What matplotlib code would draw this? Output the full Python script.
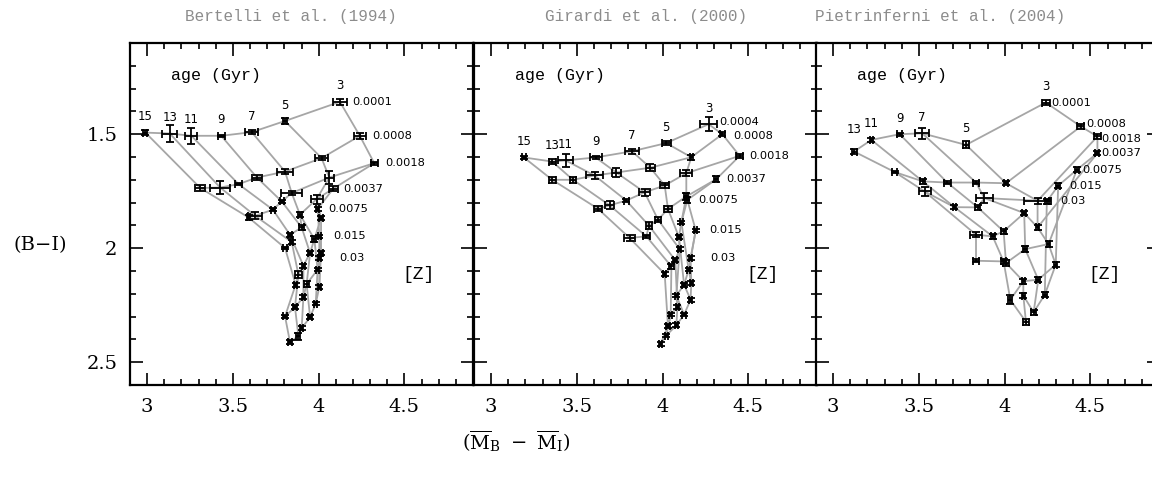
import numpy as np
import matplotlib
matplotlib.use("Agg")
import matplotlib.pyplot as plt
from matplotlib.ticker import MultipleLocator, FuncFormatter

# ---------------- data ----------------
titles = ["Bertelli et al. (1994)", "Girardi et al. (2000)", "Pietrinferni et al. (2004)"]

ages_p1 = [3, 5, 7, 9, 11, 13, 15]
Z_p1 = ["0.0001", "0.0008", "0.0018", "0.0037", "0.0075", "0.015", "0.03"]
p1_x = [[4.124, 3.804, 3.610, 3.432, 3.258, 3.132, 2.990],
        [4.240, 4.017, 3.804, 3.640, 3.533, 3.426, 3.310],
        [4.324, 4.062, 3.843, 3.785, 3.733, 3.630, 3.591],
        [4.085, 3.988, 3.891, 3.901, 3.833, 3.843, 3.804],
        [3.994, 4.014, 3.975, 3.950, 3.911, 3.882, 3.866],
        [4.004, 4.014, 3.994, 3.930, 3.911, 3.862, 3.804],
        [4.004, 4.004, 3.983, 3.950, 3.901, 3.882, 3.833]]
p1_y = [[1.358, 1.442, 1.491, 1.507, 1.507, 1.497, 1.493],
        [1.507, 1.605, 1.664, 1.690, 1.719, 1.734, 1.736],
        [1.627, 1.690, 1.758, 1.795, 1.831, 1.858, 1.865],
        [1.739, 1.785, 1.853, 1.909, 1.941, 1.973, 1.999],
        [1.828, 1.868, 1.960, 2.021, 2.077, 2.116, 2.160],
        [1.948, 2.021, 2.094, 2.157, 2.215, 2.259, 2.299],
        [2.043, 2.170, 2.243, 2.303, 2.351, 2.386, 2.412]]
p1_xerr = [[0.043, 0.012, 0.039, 0.020, 0.035, 0.043, 0.012],
           [0.035, 0.040, 0.045, 0.030, 0.020, 0.060, 0.030],
           [0.020, 0.025, 0.060, 0.012, 0.010, 0.040, 0.010],
           [0.025, 0.035, 0.010, 0.015, 0.012, 0.010, 0.012],
           [0.010, 0.010, 0.012, 0.010, 0.010, 0.018, 0.010],
           [0.010, 0.010, 0.010, 0.015, 0.010, 0.010, 0.010],
           [0.010, 0.010, 0.010, 0.010, 0.010, 0.012, 0.012]]
p1_yerr = [[0.012, 0.012, 0.010, 0.005, 0.036, 0.036, 0.010],
           [0.012, 0.008, 0.010, 0.012, 0.005, 0.030, 0.015],
           [0.006, 0.030, 0.008, 0.008, 0.006, 0.015, 0.010],
           [0.012, 0.020, 0.010, 0.010, 0.008, 0.010, 0.005],
           [0.008, 0.008, 0.012, 0.008, 0.008, 0.015, 0.008],
           [0.008, 0.008, 0.008, 0.015, 0.008, 0.008, 0.008],
           [0.008, 0.008, 0.008, 0.008, 0.008, 0.015, 0.008]]

ages_p2 = [3, 5, 7, 9, 11, 13, 15]
Z_p2 = ["0.0004", "0.0008", "0.0018", "0.0037", "0.0075", "0.015", "0.03"]
p2_x = [[4.268, 4.021, 3.821, 3.609, 3.434, 3.356, 3.191],
        [4.348, 4.167, 3.928, 3.730, 3.603, 3.477, 3.356],
        [4.449, 4.138, 4.012, 3.895, 3.788, 3.691, 3.623],
        [4.313, 4.138, 4.031, 3.973, 3.920, 3.905, 3.807],
        [4.144, 4.109, 4.095, 4.099, 4.074, 4.051, 4.012],
        [4.193, 4.152, 4.125, 4.080, 4.086, 4.047, 4.031],
        [4.163, 4.167, 4.163, 4.125, 4.080, 4.021, 3.988]]
p2_y = [[1.456, 1.539, 1.575, 1.602, 1.615, 1.620, 1.602],
        [1.500, 1.601, 1.647, 1.668, 1.681, 1.700, 1.700],
        [1.595, 1.671, 1.725, 1.755, 1.791, 1.812, 1.827],
        [1.697, 1.773, 1.828, 1.875, 1.901, 1.948, 1.955],
        [1.788, 1.887, 1.951, 2.004, 2.053, 2.080, 2.113],
        [1.922, 2.094, 2.160, 2.208, 2.259, 2.291, 2.342],
        [2.043, 2.153, 2.226, 2.291, 2.338, 2.383, 2.420]]
p2_xerr = [[0.048, 0.025, 0.040, 0.035, 0.045, 0.020, 0.010],
           [0.015, 0.010, 0.025, 0.025, 0.050, 0.020, 0.020],
           [0.020, 0.035, 0.025, 0.030, 0.015, 0.025, 0.025],
           [0.012, 0.012, 0.025, 0.020, 0.020, 0.020, 0.030],
           [0.012, 0.010, 0.010, 0.010, 0.012, 0.015, 0.010],
           [0.010, 0.010, 0.010, 0.010, 0.010, 0.010, 0.010],
           [0.010, 0.010, 0.010, 0.010, 0.010, 0.010, 0.010]]
p2_yerr = [[0.030, 0.008, 0.012, 0.008, 0.030, 0.010, 0.008],
           [0.010, 0.010, 0.015, 0.020, 0.015, 0.012, 0.012],
           [0.008, 0.012, 0.010, 0.015, 0.008, 0.018, 0.012],
           [0.012, 0.015, 0.012, 0.012, 0.015, 0.008, 0.012],
           [0.012, 0.008, 0.008, 0.008, 0.008, 0.012, 0.008],
           [0.008, 0.008, 0.008, 0.008, 0.008, 0.008, 0.008],
           [0.008, 0.008, 0.008, 0.008, 0.008, 0.008, 0.008]]

ages_p3 = [3, 5, 7, 9, 11, 13]
Z_p3 = ["0.0001", "0.0008", "0.0018", "0.0037", "0.0075", "0.015", "0.03"]
nan = np.nan
p3_x = [[4.240, 3.775, 3.519, 3.388, 3.223, 3.122],
        [4.444, 4.008, 3.833, 3.665, 3.523, 3.359],
        [4.541, 4.192, 3.882, 3.843, 3.707, 3.533],
        [4.541, 4.192, 4.114, 3.994, 3.930, 3.833],
        [4.421, 4.256, 4.120, 4.008, 3.994, 3.833],
        [4.312, 4.298, 4.196, 4.109, 4.033, nan],
        [4.246, 4.234, 4.169, 4.109, 4.124, nan]]
p3_y = [[1.361, 1.547, 1.496, 1.500, 1.525, 1.576],
        [1.466, 1.715, 1.712, 1.712, 1.707, 1.666],
        [1.510, 1.792, 1.780, 1.821, 1.820, 1.751],
        [1.583, 1.909, 1.846, 1.926, 1.948, 1.941],
        [1.656, 1.982, 2.004, 2.065, 2.058, 2.055],
        [1.726, 2.072, 2.138, 2.145, 2.226, nan],
        [1.795, 2.204, 2.281, 2.208, 2.323, nan]]
p3_xerr = [[0.025, 0.015, 0.040, 0.015, 0.010, 0.015],
           [0.020, 0.012, 0.015, 0.020, 0.015, 0.015],
           [0.020, 0.080, 0.050, 0.015, 0.010, 0.035],
           [0.012, 0.010, 0.012, 0.015, 0.012, 0.035],
           [0.012, 0.010, 0.012, 0.015, 0.015, 0.015],
           [0.010, 0.008, 0.012, 0.010, 0.012, nan],
           [0.012, 0.012, 0.015, 0.010, 0.018, nan]]
p3_yerr = [[0.010, 0.015, 0.025, 0.006, 0.008, 0.012],
           [0.010, 0.010, 0.008, 0.008, 0.012, 0.006],
           [0.010, 0.012, 0.020, 0.010, 0.008, 0.020],
           [0.010, 0.010, 0.010, 0.012, 0.010, 0.010],
           [0.010, 0.012, 0.012, 0.012, 0.012, 0.006],
           [0.010, 0.012, 0.010, 0.012, 0.020, nan],
           [0.010, 0.010, 0.012, 0.012, 0.012, nan]]

panels = [
    (ages_p1, Z_p1, p1_x, p1_y, p1_xerr, p1_yerr),
    (ages_p2, Z_p2, p2_x, p2_y, p2_xerr, p2_yerr),
    (ages_p3, Z_p3, p3_x, p3_y, p3_xerr, p3_yerr),
]

# label offsets (points) of the Z labels relative to the 3-Gyr points
z_label_dx = [[9, 9, 8, 7, 8, 10, 14],
              [8, 8, 7, 7, 8, 10, 14],
              [4, 4, 3, 3, 4, 8, 10]]
z_label_dy = [[0, 0, 0, 0, 0, 0, 0],
              [1.5, -1.5, 0, 0, 0, 0, 0],
              [0, 1.5, -1.5, 0, 0, 0, 0]]

# ---------------- figure ----------------
W, H = 1152, 483
fig = plt.figure(figsize=(W / 100, H / 100), dpi=100)

serif = "DejaVu Serif"
mono = "Liberation Mono"
sans = "DejaVu Sans"
plt.rcParams["mathtext.fontset"] = "dejavuserif"

ax_w = 343 / W
ax_h = (385 - 43) / H
ax_b = (H - 385) / H
lefts = [130 / W, 474 / W, 816 / W]
line_col = "#a6a6a6"

for k, (ages, zs, X, Y, XE, YE) in enumerate(panels):
    ax = fig.add_axes([lefts[k], ax_b, ax_w, ax_h])
    X = np.array(X, float); Y = np.array(Y, float)
    XE = np.array(XE, float); YE = np.array(YE, float)
    # iso-metallicity lines
    for i in range(X.shape[0]):
        ax.plot(X[i], Y[i], color=line_col, lw=1.3, zorder=1)
    # iso-age lines
    for j in range(X.shape[1]):
        ax.plot(X[:, j], Y[:, j], color=line_col, lw=1.3, zorder=1)
    ax.errorbar(X.ravel(), Y.ravel(), xerr=XE.ravel(), yerr=YE.ravel(),
                fmt="none", ecolor="black", elinewidth=1.3, capsize=2.6,
                capthick=1.3, zorder=3)
    # age labels above first row
    for j, a in enumerate(ages):
        dy = 11.5
        if k == 2 and a == 13:
            dy = 16
        ax.annotate(str(a), (X[0, j], Y[0, j]), xytext=(0, dy),
                    textcoords="offset points", ha="center", va="center",
                    fontsize=8.5, family=sans)
    # Z labels next to 3 Gyr points
    for i, z in enumerate(zs):
        ax.annotate(z, (X[i, 0], Y[i, 0]),
                    xytext=(z_label_dx[k][i], z_label_dy[k][i]),
                    textcoords="offset points", ha="left", va="center",
                    fontsize=8.2, family=sans)
    ax.text(0.12, 0.905, "age (Gyr)", transform=ax.transAxes, ha="left",
            va="center", fontsize=12, family=mono)
    ax.text(0.84, 0.323, "[Z]", transform=ax.transAxes, ha="center",
            va="center", fontsize=13, family=mono)

    ax.set_xlim(2.9, 4.9)
    ax.set_ylim(2.6, 1.1)
    ax.xaxis.set_major_locator(MultipleLocator(0.5))
    ax.xaxis.set_minor_locator(MultipleLocator(0.1))
    ax.yaxis.set_major_locator(MultipleLocator(0.5))
    ax.yaxis.set_minor_locator(MultipleLocator(0.1))
    fmt = FuncFormatter(lambda v, p: "%g" % v)
    ax.xaxis.set_major_formatter(fmt)
    ax.yaxis.set_major_formatter(fmt)
    ax.tick_params(which="both", direction="in", top=True, right=True,
                   width=1.2, colors="black")
    ax.tick_params(which="major", length=9, pad=9, labelsize=14)
    ax.tick_params(which="minor", length=4.5)
    for lab in ax.get_xticklabels() + ax.get_yticklabels():
        lab.set_family(serif)
    if k > 0:
        ax.tick_params(labelleft=False)
    for s in ax.spines.values():
        s.set_linewidth(1.6)

# titles
title_x = [291, 646, 940]
for t, xc in zip(titles, title_x):
    fig.text(xc / W, 1 - 16 / H, t, ha="center", va="center", fontsize=11.5,
             family=mono, color="#8c8c8c")

fig.text(40 / W, 1 - 245 / H, "(B\u2212I)", ha="center", va="center",
         fontsize=14, family=serif)
fig.text(516 / W, 1 - 441 / H,
         r"$(\overline{\rm M}_{\rm B}\ -\ \overline{\rm M}_{\rm I})$",
         ha="center", va="center", fontsize=14)

fig.savefig("out.png", dpi=100)
